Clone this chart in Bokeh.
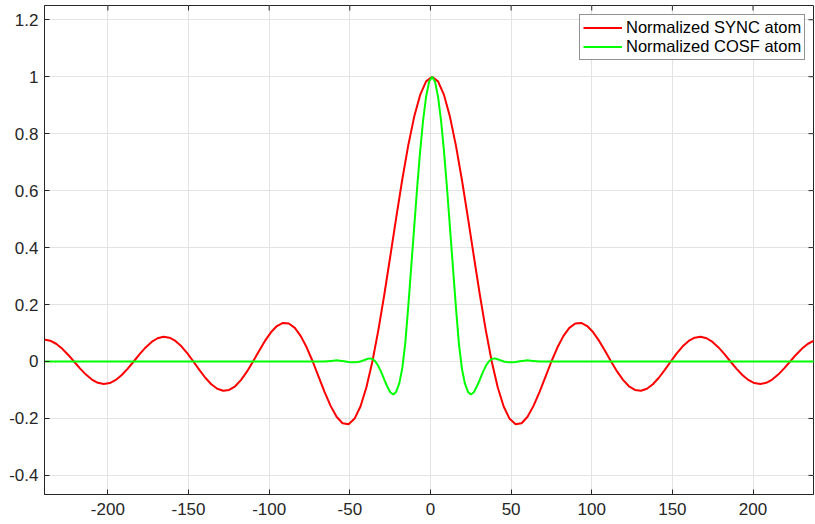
from bokeh.plotting import figure
from bokeh.models import Range1d, FixedTicker, Legend, LegendItem
from bokeh.embed import file_html
from bokeh.resources import INLINE

# ---- data ----
sync_x = [-239.5, -235.8, -232.1, -228.4, -224.7, -221.0, -217.3, -213.6, -209.9, -206.2,
          -202.5, -198.8, -195.1, -191.4, -187.7, -184.0, -180.3, -176.6, -172.9, -169.2,
          -165.5, -161.8, -158.1, -154.4, -150.7, -147.0, -143.3, -139.6, -135.9, -132.2,
          -128.5, -124.8, -121.1, -117.4, -113.7, -110.0, -106.3, -102.6, -98.9, -95.2,
          -91.5, -87.8, -84.1, -80.4, -76.7, -73.0, -69.3, -65.6, -61.9, -58.2,
          -54.5, -50.8, -47.1, -43.4, -39.7, -36.0, -32.3, -28.6, -24.9, -21.2,
          -17.5, -13.8, -10.1, -6.4, -2.7, 1.0, 4.7, 8.4, 12.1, 15.8,
          19.5, 23.2, 26.9, 30.6, 34.3, 38.0, 41.7, 45.4, 49.1, 52.8,
          56.5, 60.2, 63.9, 67.6, 71.3, 75.0, 78.7, 82.4, 86.1, 89.8,
          93.5, 97.2, 100.9, 104.6, 108.3, 112.0, 115.7, 119.4, 123.1, 126.8,
          130.5, 134.2, 137.9, 141.6, 145.3, 149.0, 152.7, 156.4, 160.1, 163.8,
          167.5, 171.2, 174.9, 178.6, 182.3, 186.0, 189.7, 193.4, 197.1, 200.8,
          204.5, 208.2, 211.9, 215.6, 219.3, 223.0, 226.7, 230.4, 234.1, 237.8]
sync_y = [0.0769, 0.0732, 0.0623, 0.0453, 0.0239, 0.0, -0.0240, -0.0459, -0.0634, -0.0749,
          -0.0792, -0.0758, -0.0649, -0.0475, -0.0252, 0.0, 0.0257, 0.0493, 0.0686, 0.0816,
          0.0869, 0.0837, 0.0722, 0.0532, 0.0284, 0.0, -0.0294, -0.0570, -0.0799, -0.0958,
          -0.1028, -0.0999, -0.0870, -0.0647, -0.0349, 0.0, 0.0369, 0.0722, 0.1025, 0.1245,
          0.1354, 0.1335, 0.1179, 0.0892, 0.0489, 0.0, -0.0536, -0.1073, -0.1558, -0.1940,
          -0.2169, -0.2204, -0.2014, -0.1581, -0.0905, 0.0, 0.1102, 0.2353, 0.3696, 0.5063,
          0.6382, 0.7580, 0.8591, 0.9359, 0.9837, 1.0, 0.9837, 0.9359, 0.8591, 0.7580,
          0.6382, 0.5063, 0.3696, 0.2353, 0.1102, 0.0, -0.0905, -0.1581, -0.2014, -0.2204,
          -0.2169, -0.1940, -0.1558, -0.1073, -0.0536, 0.0, 0.0489, 0.0892, 0.1179, 0.1335,
          0.1354, 0.1245, 0.1025, 0.0722, 0.0369, 0.0, -0.0349, -0.0647, -0.0870, -0.0999,
          -0.1028, -0.0958, -0.0799, -0.0570, -0.0294, 0.0, 0.0284, 0.0532, 0.0722, 0.0837,
          0.0869, 0.0816, 0.0686, 0.0493, 0.0257, 0.0, -0.0252, -0.0475, -0.0649, -0.0758,
          -0.0792, -0.0749, -0.0634, -0.0459, -0.0240, 0.0, 0.0239, 0.0453, 0.0623, 0.0732]

cosf_x = [-239.5, -65.6, -63.75, -61.9, -60.05, -58.2, -56.35, -54.5, -52.65, -50.8, -48.95,
          -47.1, -45.25, -43.4, -41.55, -39.7, -37.85, -36.0, -34.15, -32.3, -30.45,
          -28.6, -26.75, -24.9, -23.05, -21.2, -19.35, -17.5, -15.65, -13.8, -11.95,
          -10.1, -8.25, -6.4, -4.55, -2.7, -0.85, 1.0, 2.85, 4.7, 6.55,
          8.4, 10.25, 12.1, 13.95, 15.8, 17.65, 19.5, 21.35, 23.2, 25.05,
          26.9, 28.75, 30.6, 32.45, 34.3, 36.15, 38.0, 39.85, 41.7, 43.55,
          45.4, 47.25, 49.1, 50.95, 52.8, 54.65, 56.5, 58.35, 60.2, 62.05,
          63.9, 65.75, 67.6, 237.8]
cosf_y = [0.0, 0.0, 0.001, 0.002, 0.003, 0.004, 0.003, 0.002, 0.0, -0.002, -0.003,
          -0.003, -0.002, 0.0, 0.004, 0.008, 0.011, 0.009, 0.0, -0.016, -0.038,
          -0.064, -0.088, -0.108, -0.116, -0.106, -0.077, -0.025, 0.062, 0.190, 0.330,
          0.470, 0.610, 0.738, 0.847, 0.930, 0.982, 1.0, 0.982, 0.930, 0.847,
          0.738, 0.610, 0.470, 0.330, 0.190, 0.062, -0.025, -0.077, -0.106, -0.116,
          -0.108, -0.088, -0.064, -0.038, -0.016, 0.0, 0.009, 0.011, 0.008, 0.004,
          0.0, -0.002, -0.003, -0.003, -0.002, 0.0, 0.002, 0.003, 0.004, 0.003,
          0.002, 0.001, 0.0, 0.0]

x_ticks = [-200, -150, -100, -50, 0, 50, 100, 150, 200]
x_labels = ["-200", "-150", "-100", "-50", "0", "50", "100", "150", "200"]
y_ticks = [-0.4, -0.2, 0, 0.2, 0.4, 0.6, 0.8, 1, 1.2]
y_labels = ["-0.4", "-0.2", "0", "0.2", "0.4", "0.6", "0.8", "1", "1.2"]
series_names = ["Normalized SYNC atom", "Normalized COSF atom"]

FONT = "Liberation Sans"
DARK = "#262626"
X0, X1 = -239.3, 237.5
Y0, Y1 = -0.467, 1.25

p = figure(width=815, height=524, output_backend="svg", toolbar_location=None,
           x_range=Range1d(X0, X1), y_range=Range1d(Y0, Y1),
           min_border_left=44, min_border_right=2, min_border_top=5, min_border_bottom=30,
           background_fill_color="white", border_fill_color="white")
p.outline_line_color = DARK
p.outline_line_width = 1

p.xaxis.ticker = FixedTicker(ticks=x_ticks)
p.yaxis.ticker = FixedTicker(ticks=y_ticks)
p.xaxis.major_label_overrides = {t: s for t, s in zip(x_ticks, x_labels)}
p.yaxis.major_label_overrides = {t: s for t, s in zip(y_ticks, y_labels)}
for ax in (p.xaxis[0], p.yaxis[0]):
    ax.major_label_text_font = FONT
    ax.major_label_text_font_size = "17px"
    ax.major_label_text_color = DARK
    ax.axis_line_color = DARK
    ax.major_tick_line_color = DARK
    ax.major_tick_in = 5
    ax.major_tick_out = 0
    ax.minor_tick_line_color = None
p.xaxis.major_label_standoff = 8
p.yaxis.major_label_standoff = 6

p.xgrid.grid_line_color = "#e3e3e3"
p.ygrid.grid_line_color = "#e3e3e3"

# tick marks on the top and right edges of the box (5 px long, pointing inward)
tick_dy = 5 * (Y1 - Y0) / 489.0
tick_dx = 5 * (X1 - X0) / 769.0
p.segment(x0=x_ticks, y0=[Y1] * len(x_ticks), x1=x_ticks, y1=[Y1 - tick_dy] * len(x_ticks),
          line_color=DARK, line_width=1)
p.segment(x0=[X1] * len(y_ticks), y0=y_ticks, x1=[X1 - tick_dx] * len(y_ticks), y1=y_ticks,
          line_color=DARK, line_width=1)

r1 = p.line(sync_x, sync_y, line_color="#ff0000", line_width=2)
r2 = p.line(cosf_x, cosf_y, line_color="#00ff00", line_width=2)

legend = Legend(items=[LegendItem(label=series_names[0], renderers=[r1]),
                       LegendItem(label=series_names[1], renderers=[r2])],
                location=(535, 434))
legend.label_text_font = FONT
legend.label_text_font_size = "16.5px"
legend.label_text_color = "black"
legend.glyph_width = 39
legend.glyph_height = 19
legend.label_height = 19
legend.label_standoff = 4
legend.padding = 3
legend.spacing = 0
legend.margin = 0
legend.border_line_color = DARK
legend.border_line_width = 1
legend.background_fill_alpha = 1.0
p.add_layout(legend, "center")

open("out.html", "w").write(file_html(p, INLINE))
